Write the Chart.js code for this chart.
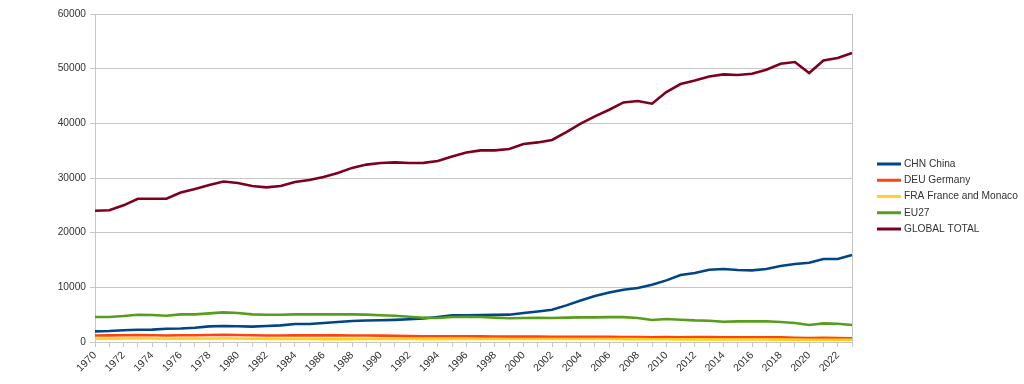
<!DOCTYPE html>
<html>
<head>
<meta charset="utf-8">
<script src="https://cdn.jsdelivr.net/npm/chart.js@4"></script>
<style>
  body { margin: 0; background: #fff; }
  #wrap { width: 1024px; height: 384px; }
</style>
</head>
<body>
<div id="wrap"><canvas id="myChart"></canvas></div>
<script>
const years = [
  '1970', '1971', '1972', '1973', '1974', '1975', '1976', '1977', '1978', '1979',
  '1980', '1981', '1982', '1983', '1984', '1985', '1986', '1987', '1988', '1989',
  '1990', '1991', '1992', '1993', '1994', '1995', '1996', '1997', '1998', '1999',
  '2000', '2001', '2002', '2003', '2004', '2005', '2006', '2007', '2008', '2009',
  '2010', '2011', '2012', '2013', '2014', '2015', '2016', '2017', '2018', '2019',
  '2020', '2021', '2022', '2023'
];
const china = [
  1950, 2000, 2150, 2250, 2260, 2420, 2480, 2620, 2850, 2920,
  2880, 2820, 2920, 3040, 3280, 3300, 3470, 3650, 3830, 3940,
  3980, 4050, 4150, 4300, 4570, 4870, 4900, 4940, 4990, 5000,
  5300, 5580, 5900, 6700, 7600, 8400, 9050, 9570, 9880, 10480,
  11270, 12250, 12620, 13220, 13350, 13170, 13110, 13350, 13900, 14270,
  14510, 15180, 15180, 15910
];
const germany = [
  1200, 1210, 1230, 1270, 1240, 1180, 1240, 1230, 1270, 1310,
  1270, 1230, 1190, 1190, 1210, 1220, 1220, 1210, 1200, 1180,
  1170, 1120, 1070, 1060, 1040, 1040, 1060, 1020, 1010, 980,
  980, 990, 970, 970, 960, 940, 950, 920, 920, 860,
  900, 880, 890, 900, 870, 880, 880, 860, 840, 790,
  730, 760, 740, 680
];
const france = [
  600, 620, 640, 670, 640, 600, 640, 620, 640, 660,
  630, 590, 570, 560, 550, 540, 530, 530, 530, 540,
  540, 560, 550, 530, 530, 540, 560, 550, 560, 550,
  550, 550, 540, 550, 550, 550, 540, 530, 520, 500,
  510, 480, 480, 480, 450, 460, 460, 460, 440, 430,
  390, 410, 400, 380
];
const eu27 = [
  4570, 4570, 4750, 4990, 4930, 4810, 5050, 5050, 5240, 5420,
  5300, 5050, 4990, 4990, 5050, 5050, 5050, 5060, 5050, 5000,
  4900, 4800, 4630, 4450, 4400, 4570, 4630, 4570, 4450, 4350,
  4390, 4420, 4400, 4450, 4510, 4510, 4550, 4550, 4390, 4020,
  4200, 4080, 3960, 3900, 3710, 3780, 3780, 3790, 3650, 3470,
  3110, 3410, 3350, 3110
];
const globalTotal = [
  24000, 24100, 25000, 26200, 26200, 26200, 27350, 28000, 28700, 29350,
  29080, 28530, 28280, 28530, 29260, 29630, 30180, 30900, 31850, 32450,
  32740, 32850, 32740, 32760, 33100, 33950, 34680, 35050, 35050, 35300,
  36210, 36510, 36950, 38410, 39930, 41270, 42490, 43830, 44080, 43590,
  45730, 47190, 47850, 48580, 48950, 48840, 49080, 49810, 50910, 51220,
  49200, 51510, 51950, 52860
];
const seriesNames = ['CHN China', 'DEU Germany', 'FRA France and Monaco', 'EU27', 'GLOBAL TOTAL'];
const seriesColors = ['#004586', '#ff420e', '#ffd320', '#579d1c', '#7e0021'];

const gridColor = '#c6c6c6';
const textColor = '#333333';
const fontFamily = '"Liberation Sans", Arial, sans-serif';

// legend drawn by hand so it sits where the original has it
const sideLegend = {
  id: 'sideLegend',
  afterDraw(chart) {
    const ctx = chart.ctx;
    const x0 = chart.chartArea.right + 25;
    const yTop = 164;
    ctx.save();
    ctx.font = '10.2px ' + fontFamily;
    ctx.textBaseline = 'middle';
    ctx.textAlign = 'left';
    chart.data.datasets.forEach((ds, i) => {
      const y = yTop + i * 16.25;
      ctx.strokeStyle = ds.borderColor;
      ctx.lineWidth = 3;
      ctx.beginPath();
      ctx.moveTo(x0, y);
      ctx.lineTo(x0 + 24, y);
      ctx.stroke();
      ctx.fillStyle = textColor;
      ctx.fillText(ds.label, x0 + 27, y);
    });
    ctx.restore();
  }
};

const allSeries = [china, germany, france, eu27, globalTotal];
const data = {
  labels: years,
  datasets: allSeries.map((values, i) => ({
    label: seriesNames[i],
    data: values,
    borderColor: seriesColors[i],
    backgroundColor: seriesColors[i],
    borderWidth: 2.6,
    pointRadius: 0,
    tension: 0,
    order: allSeries.length - i
  }))
};

const config = {
  type: 'line',
  data,
  plugins: [sideLegend],
  options: {
    responsive: true,
    maintainAspectRatio: false,
    animation: false,
    layout: { padding: { top: 14, right: 172, left: 0, bottom: 0 } },
    plugins: {
      legend: { display: false },
      tooltip: { enabled: false }
    },
    scales: {
      x: {
        grid: {
          color: (c) => c.index === years.length - 1 ? gridColor : 'rgba(0,0,0,0)',
          tickColor: gridColor,
          tickLength: 5,
          drawOnChartArea: true
        },
        border: { display: true, color: gridColor },
        ticks: {
          autoSkip: false,
          minRotation: 45,
          maxRotation: 45,
          padding: 2,
          color: textColor,
          font: { family: fontFamily, size: 10.5 },
          callback: (v, i) => i % 2 === 0 ? years[i] : ''
        },
        afterFit: (scale) => { scale.height = 42; }
      },
      y: {
        min: 0,
        max: 60000,
        grid: { color: gridColor, tickColor: gridColor, tickLength: 5 },
        border: { display: true, color: gridColor },
        ticks: {
          stepSize: 10000,
          padding: 4,
          color: textColor,
          font: { family: fontFamily, size: 10.2 },
          callback: (v) => String(v)
        },
        afterFit: (scale) => { scale.width = 95; }
      }
    }
  }
};

const myChart = new Chart(document.getElementById('myChart'), config);
</script>
</body>
</html>
